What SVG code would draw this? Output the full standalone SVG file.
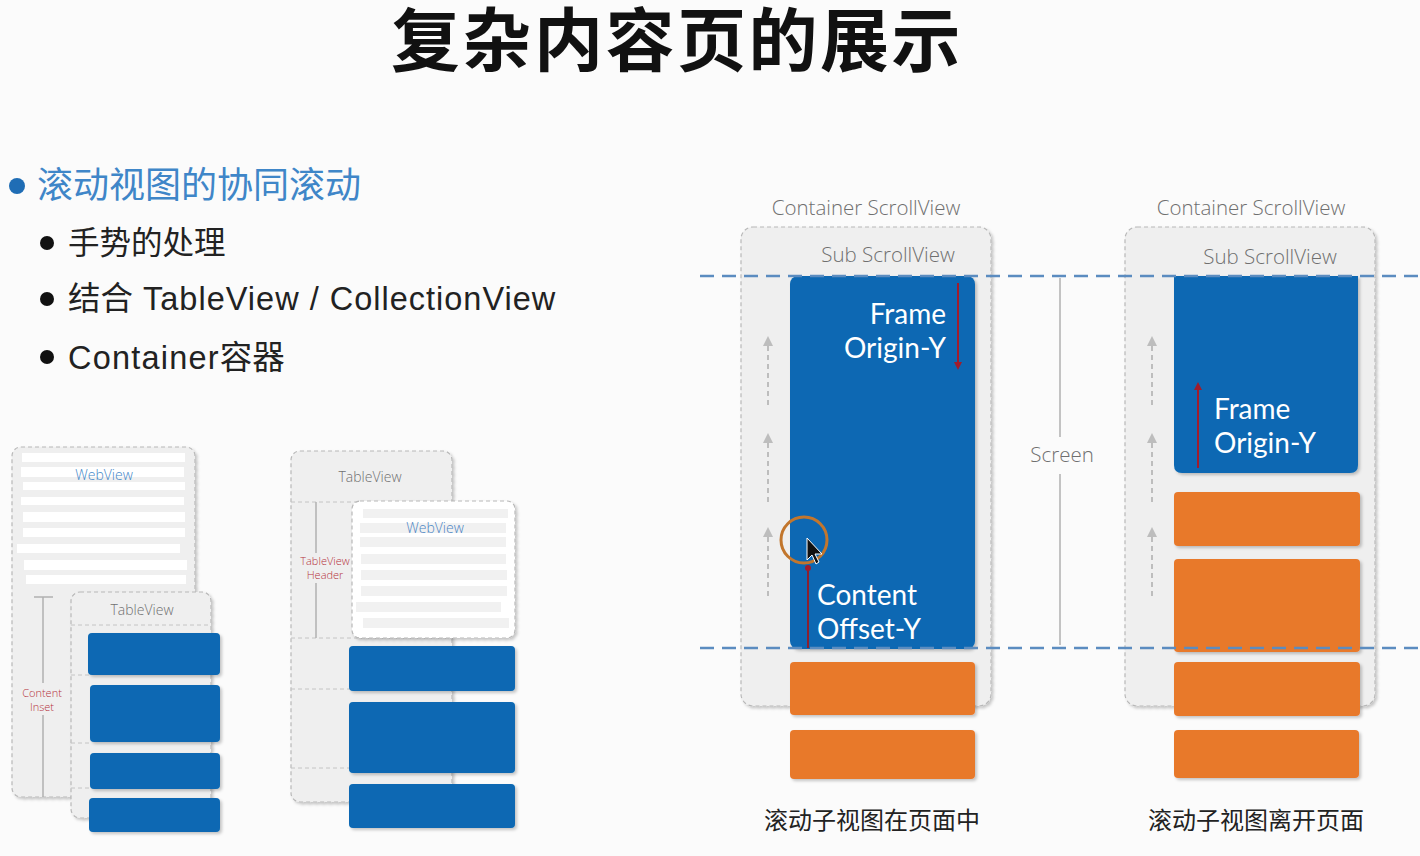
<svg xmlns="http://www.w3.org/2000/svg" width="1420" height="856" viewBox="0 0 1420 856">
<defs>
<style>
.cjk{font-family:"Noto Sans CJK SC","Liberation Sans",sans-serif}
.lat{font-family:"Liberation Sans","Noto Sans CJK SC",sans-serif}
.seg{font-family:"Open Sans","Noto Sans",sans-serif;font-weight:300}
.lab{font-family:Lato,"Open Sans",sans-serif;font-weight:400;font-size:28px;fill:#ffffff}
.panel{fill:#efefef;stroke:#b8b8b8;stroke-width:1.2;stroke-dasharray:4 3}
.wpanel{fill:#ffffff;stroke:#b8b8b8;stroke-width:1.2;stroke-dasharray:4 3}
.bar{fill:#ffffff}
.gbar{fill:#f1f1f1}
.blue{fill:#0867b3}
.orange{fill:#e8792b}
.sep{stroke:#c4c4c4;stroke-width:1;stroke-dasharray:4 3}
.vline{stroke:#b0b0b0;stroke-width:1.5}
.screen{stroke:#5b8cc0;stroke-width:2.5;stroke-dasharray:14 8;fill:none}
.garrow{stroke:#bdbdbd;stroke-width:2;stroke-dasharray:5 4;fill:none}
.rarrow{stroke:#a01c2c;stroke-width:2;fill:none}
.gtxt{fill:#6f6f6f}
.rtxt{fill:#b5323c}
.btxt{fill:#3f86c8}
</style>
<filter id="sh" x="-10%" y="-10%" width="125%" height="125%">
<feDropShadow dx="2" dy="2" stdDeviation="1.8" flood-color="#000" flood-opacity="0.22"/>
</filter>
<marker id="ga" viewBox="0 0 10 10" refX="5" refY="5" markerWidth="5" markerHeight="5" orient="auto-start-reverse">
<path d="M0,0 L10,5 L0,10 z" fill="#bdbdbd"/>
</marker>
<marker id="ra" viewBox="0 0 10 10" refX="5" refY="5" markerWidth="4" markerHeight="4" orient="auto-start-reverse">
<path d="M0,0 L10,5 L0,10 z" fill="#a01c2c"/>
</marker>
</defs>
<rect width="1420" height="856" fill="#fbfbfb"/>

<g id="title">
<text class="cjk" x="677" y="66" font-size="69" font-weight="bold" letter-spacing="2.5" text-anchor="middle" fill="#111">复杂内容页的展示</text>
</g>

<g id="bullets">
<circle cx="17" cy="186" r="8" fill="#1f6db5"/>
<text class="cjk btxt" x="37" y="198" font-size="36">滚动视图的协同滚动</text>
<circle cx="47" cy="243" r="7" fill="#111"/>
<text class="cjk" x="68" y="254" font-size="31.5" fill="#222">手势的处理</text>
<circle cx="47" cy="299" r="7" fill="#111"/>
<text class="lat" x="68" y="310" font-size="32.5" fill="#222"><tspan class="cjk">结合</tspan><tspan letter-spacing="1"> TableView / CollectionView</tspan></text>
<circle cx="47" cy="357" r="7" fill="#111"/>
<text class="lat" x="68" y="369" font-size="32.5" fill="#222"><tspan letter-spacing="1.2">Container</tspan><tspan class="cjk">容器</tspan></text>
</g>

<g id="diagram-a">
<rect class="panel" x="12" y="447" width="183" height="350" rx="9" filter="url(#sh)"/>
<rect class="bar" x="22" y="453" width="163" height="9"/>
<rect class="bar" x="21" y="467" width="163" height="10"/>
<rect class="bar" x="23" y="482" width="162" height="8"/>
<rect class="bar" x="21" y="497" width="163" height="8"/>
<rect class="bar" x="23" y="512" width="162" height="10"/>
<rect class="bar" x="23" y="528" width="162" height="9"/>
<rect class="bar" x="17" y="544" width="163" height="9"/>
<rect class="bar" x="24" y="560" width="163" height="10"/>
<rect class="bar" x="26" y="575" width="160" height="9"/>
<text class="seg btxt" x="104" y="480" font-size="14" text-anchor="middle" fill="#4a84c4">WebView</text>
<line class="vline" x1="43" y1="597" x2="43" y2="797"/>
<line class="vline" x1="34" y1="597" x2="53" y2="597"/>
<rect x="18" y="683" width="48" height="32" fill="#efefef"/>
<text class="seg rtxt" font-size="11" text-anchor="middle"><tspan x="42" y="697">Content</tspan><tspan x="42" y="711">Inset</tspan></text>
<rect class="panel" x="71" y="592" width="140" height="226" rx="9" filter="url(#sh)"/>
<text class="seg gtxt" x="142" y="615" font-size="14" text-anchor="middle">TableView</text>
<line class="sep" x1="71" y1="625" x2="211" y2="625"/>
<line class="sep" x1="71" y1="675" x2="90" y2="675"/>
<line class="sep" x1="71" y1="743" x2="90" y2="743"/>
<line class="sep" x1="71" y1="788" x2="90" y2="788"/>
<rect class="blue" x="88" y="633" width="132" height="42" rx="4" filter="url(#sh)"/>
<rect class="blue" x="90" y="685" width="130" height="57" rx="4" filter="url(#sh)"/>
<rect class="blue" x="90" y="753" width="130" height="36" rx="4" filter="url(#sh)"/>
<rect class="blue" x="89" y="798" width="131" height="34" rx="4" filter="url(#sh)"/>
</g>

<g id="diagram-b">
<rect class="panel" x="291" y="451" width="161" height="351" rx="9" filter="url(#sh)"/>
<text class="seg gtxt" x="370" y="482" font-size="14" text-anchor="middle">TableView</text>
<line class="sep" x1="291" y1="502" x2="452" y2="502"/>
<line class="sep" x1="291" y1="638" x2="452" y2="638"/>
<line class="sep" x1="291" y1="689" x2="452" y2="689"/>
<line class="sep" x1="291" y1="768" x2="452" y2="768"/>
<line class="vline" x1="316" y1="502" x2="316" y2="638"/>
<rect x="298" y="553" width="52" height="30" fill="#efefef"/>
<text class="seg rtxt" font-size="11" text-anchor="middle"><tspan x="325" y="565">TableView</tspan><tspan x="325" y="579">Header</tspan></text>
<rect class="wpanel" x="352" y="501" width="163" height="137" rx="8" filter="url(#sh)"/>
<rect class="gbar" x="363" y="509" width="145" height="9"/>
<rect class="gbar" x="360" y="523" width="146" height="10"/>
<rect class="gbar" x="360" y="537" width="146" height="10"/>
<rect class="gbar" x="361" y="554" width="145" height="10"/>
<rect class="gbar" x="361" y="570" width="146" height="10"/>
<rect class="gbar" x="361" y="586" width="146" height="10"/>
<rect class="gbar" x="356" y="602" width="145" height="10"/>
<rect class="gbar" x="363" y="618" width="146" height="10"/>
<text class="seg" x="435" y="533" font-size="14" text-anchor="middle" fill="#4a84c4">WebView</text>
<rect class="blue" x="349" y="646" width="166" height="45" rx="4" filter="url(#sh)"/>
<rect class="blue" x="349" y="702" width="166" height="71" rx="4" filter="url(#sh)"/>
<rect class="blue" x="349" y="784" width="166" height="44" rx="4" filter="url(#sh)"/>
</g>

<g id="scroll-in-page">
<text class="seg gtxt" x="866" y="215" font-size="20.5" text-anchor="middle">Container ScrollView</text>
<rect class="panel" x="741" y="227" width="250" height="479" rx="12" filter="url(#sh)"/>
<text class="seg gtxt" x="888" y="262" font-size="20.5" text-anchor="middle">Sub ScrollView</text>
<rect class="blue" x="790" y="276" width="185" height="373" rx="8" filter="url(#sh)"/>
<text class="lab" text-anchor="end"><tspan x="946" y="324">Frame</tspan><tspan x="946" y="358">Origin-Y</tspan></text>
<line class="rarrow" x1="958" y1="283" x2="958" y2="366" marker-end="url(#ra)"/>
<line class="garrow" x1="768" y1="405" x2="768" y2="341" marker-end="url(#ga)"/>
<line class="garrow" x1="768" y1="502" x2="768" y2="438" marker-end="url(#ga)"/>
<line class="garrow" x1="768" y1="596" x2="768" y2="532" marker-end="url(#ga)"/>
<line x1="808" y1="567" x2="808" y2="648" stroke="#8a2030" stroke-width="2"/>
<circle cx="808" cy="568" r="3" fill="#a01c2c"/>
<circle cx="804" cy="540" r="23" fill="none" stroke="#c2762d" stroke-width="3"/>
<path d="M807,538 L807,560 L812,555 L816,564 L819,562 L815,554 L822,554 Z" fill="#111" stroke="#fff" stroke-width="1"/>
<text class="lab"><tspan x="817" y="605">Content</tspan><tspan x="817" y="639">Offset-Y</tspan></text>
<rect class="orange" x="790" y="662" width="185" height="53" rx="4" filter="url(#sh)"/>
<rect class="orange" x="790" y="730" width="185" height="49" rx="4" filter="url(#sh)"/>
<text class="cjk" x="872" y="829" font-size="24" text-anchor="middle" fill="#222">滚动子视图在页面中</text>
</g>

<g id="screen">
<line class="vline" x1="1060" y1="278" x2="1060" y2="437"/>
<line class="vline" x1="1060" y1="474" x2="1060" y2="645"/>
<text class="seg gtxt" x="1062" y="462" font-size="20.5" text-anchor="middle">Screen</text>
</g>

<g id="scroll-off-page">
<text class="seg gtxt" x="1251" y="215" font-size="20.5" text-anchor="middle">Container ScrollView</text>
<rect class="panel" x="1125" y="227" width="250" height="479" rx="12" filter="url(#sh)"/>
<text class="seg gtxt" x="1270" y="264" font-size="20.5" text-anchor="middle">Sub ScrollView</text>
<path class="blue" d="M1174,276 H1358 V465 Q1358,473 1350,473 H1182 Q1174,473 1174,465 Z" filter="url(#sh)"/>
<line class="rarrow" x1="1198" y1="468" x2="1198" y2="386" marker-end="url(#ra)"/>
<text class="lab"><tspan x="1214" y="419">Frame</tspan><tspan x="1214" y="453">Origin-Y</tspan></text>
<line class="garrow" x1="1152" y1="405" x2="1152" y2="341" marker-end="url(#ga)"/>
<line class="garrow" x1="1152" y1="502" x2="1152" y2="438" marker-end="url(#ga)"/>
<line class="garrow" x1="1152" y1="596" x2="1152" y2="532" marker-end="url(#ga)"/>
<rect class="orange" x="1174" y="492" width="186" height="54" rx="4" filter="url(#sh)"/>
<rect class="orange" x="1174" y="559" width="186" height="93" rx="4" filter="url(#sh)"/>
<rect class="orange" x="1174" y="662" width="186" height="54" rx="4" filter="url(#sh)"/>
<rect class="orange" x="1174" y="730" width="185" height="48" rx="4" filter="url(#sh)"/>
<text class="cjk" x="1256" y="829" font-size="24" text-anchor="middle" fill="#222">滚动子视图离开页面</text>
</g>

<g id="connectors">
<line class="screen" x1="700" y1="276" x2="1420" y2="276"/>
<line class="screen" x1="700" y1="648" x2="1420" y2="648"/>
</g>
</svg>
